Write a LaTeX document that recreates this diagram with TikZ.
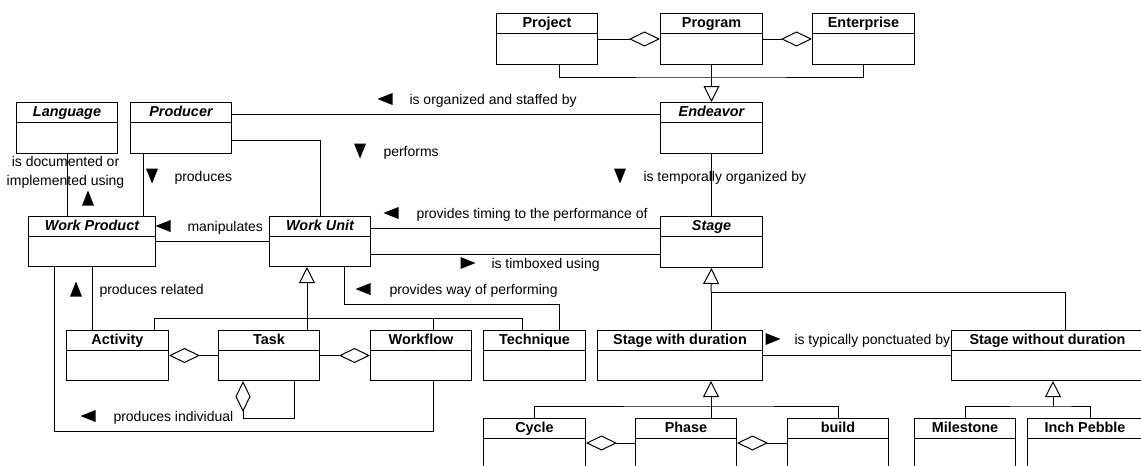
\documentclass[tikz,border=0pt]{standalone}
\usepackage{fontspec}
\setmainfont{Liberation Sans}
\usetikzlibrary{arrows.meta}

\tikzset{
  cls/.style={draw, anchor=north west, inner sep=0pt, minimum height=51pt,
    path picture={\draw ([yshift=-19.5pt]path picture bounding box.north west) -- ([yshift=-19.5pt]path picture bounding box.north east);},
    label={[anchor=base, yshift=-14.5pt, inner sep=0pt, font=\fontsize{14.4}{16}\selectfont\bfseries]north:#1}},
  lbl/.style={anchor=base west, inner sep=0pt},
  aggr/.style={arrows={Diamond[open,length=31pt,width=15pt]-}},
  gen/.style={arrows={-Triangle[open,length=16pt,width=16pt]}},
  dirtri/.pic={\fill (-7.5,-6) -- (7.5,0) -- (-7.5,6) -- cycle;}
}

\begin{document}
\begin{tikzpicture}[x=1pt,y=-1pt,line width=1pt,font=\fontsize{14}{19}\selectfont]
\useasboundingbox (0,0) rectangle (1141,466);

% classes
\node[cls={Project}, minimum width=101pt] (project) at (496,13) {};
\node[cls={Program}, minimum width=102pt] (program) at (660,13) {};
\node[cls={Enterprise}, minimum width=102pt] (enterprise) at (812,13) {};
\node[cls={\itshape Language}, minimum width=101pt] (language) at (16,102) {};
\node[cls={\itshape Producer}, minimum width=101pt] (producer) at (130,102) {};
\node[cls={\itshape Endeavor}, minimum width=102pt] (endeavor) at (660,102) {};
\node[cls={\itshape Work Product}, minimum width=127pt, minimum height=50pt] (workproduct) at (28,216) {};
\node[cls={\itshape Work Unit}, minimum width=101pt, minimum height=50pt] (workunit) at (269,216) {};
\node[cls={\itshape Stage}, minimum width=102pt] (stage) at (660,216) {};
\node[cls={Activity}, minimum width=102pt, minimum height=50pt] (activity) at (66,330) {};
\node[cls={Task}, minimum width=101pt, minimum height=50pt] (task) at (218,330) {};
\node[cls={Workflow}, minimum width=101pt, minimum height=50pt] (workflow) at (370,330) {};
\node[cls={Technique}, minimum width=102pt, minimum height=50pt] (technique) at (483,330) {};
\node[cls={Stage with duration}, minimum width=165pt, minimum height=50pt] (stagewd) at (597,330) {};
\node[cls={Stage without duration}, minimum width=192pt, minimum height=50pt] (stagewod) at (951,330) {};
\node[cls={Cycle}, minimum width=102pt, minimum height=56pt] (cycle) at (483,418) {};
\node[cls={Phase}, minimum width=101pt, minimum height=56pt] (phase) at (635,418) {};
\node[cls={build}, minimum width=101pt, minimum height=56pt] (build) at (787,418) {};
\node[cls={Milestone}, minimum width=101pt, minimum height=56pt] (milestone) at (914,418) {};
\node[cls={Inch Pebble}, minimum width=115pt, minimum height=56pt] (inchpebble) at (1027,418) {};

% aggregations
\draw[aggr] (program.west) -- (project.east);
\draw[aggr] (enterprise.west) -- (program.east);
\draw[aggr] (activity.east) -- (task.west);
\draw[aggr] (workflow.west) -- (task.east);
\draw[aggr] (task.south -| 243,0) -- (243,418) -| (task.south -| 294,0);
\draw[aggr] (cycle.east |- 0,443) -- (phase.west |- 0,443);
\draw[aggr] (phase.east |- 0,443) -- (build.west |- 0,443);

% generalizations
\draw (project.south -| 559,0) |- (711,77) -| (enterprise.south);
\draw[gen] (program.south) -- (endeavor.north);
\draw[gen] (307,318) -- (workunit.south -| 307,0);
\draw (activity.north -| 154,0) |- (522,318) -- (technique.north -| 522,0);
\draw (task.north -| 307,0) -- (307,318);
\draw (workflow.north -| 433,0) -- (433,318);
\draw[gen] (711,292) -- (stage.south);
\draw (stagewd.north -| 711,0) -- (711,292) -| (stagewod.north -| 1065,0);
\draw[gen] (711,406) -- (stagewd.south -| 711,0);
\draw (cycle.north) |- (711,406) -| (build.north);
\draw (phase.north -| 711,0) -- (711,406);
\draw[gen] (1053,406) -- (stagewod.south -| 1053,0);
\draw (milestone.north) |- (1053,406) -| (inchpebble.north -| 1090,0);

% associations
\draw (producer.east |- 0,114) -- (endeavor.west |- 0,114);
\draw (producer.east |- 0,140) -| (workunit.north);
\draw (endeavor.south) -- (stage.north);
\draw (language.south) -- (language.south |- workproduct.north);
\draw (producer.south -| 143,0) -- (workproduct.north -| 143,0);
\draw (workproduct.east) -- (workunit.west);
\draw (workunit.east |- 0,228) -- (stage.west |- 0,228);
\draw (workunit.east |- 0,254) -- (stage.west |- 0,254);
\draw (workunit.south -| 344,0) |- (559,304) -- (technique.north -| 559,0);
\draw (workproduct.south -| 92,0) -- (activity.north -| 92,0);
\draw (workproduct.south -| 54,0) |- (433,431) -- (workflow.south -| 433,0);
\draw (stagewd.east) -- (stagewod.west);

% association names
\pic[rotate=180] at (385,99) {dirtri};
\node[lbl] (lstaffed) at (409,104) {is organized and staffed by};
\pic[rotate=-90] at (360,151) {dirtri};
\node[lbl] (lperforms) at (383,156) {performs};
\pic[rotate=-90] at (620,176) {dirtri};
\node[lbl] (ltemporal) at (643,181) {is temporally organized by};
\node[align=center, inner sep=0pt] (ldocumented) at (65.5,172.5) {is documented or\\implemented using};
\pic[rotate=90] at (88,198) {dirtri};
\pic[rotate=-90] at (152,176) {dirtri};
\node[lbl] (lproduces) at (174,181) {produces};
\pic[rotate=180] at (163,226) {dirtri};
\node[lbl] (lmanipulates) at (187,231) {manipulates};
\pic[rotate=180] at (391,213) {dirtri};
\node[lbl] (ltiming) at (416,218) {provides timing to the performance of};
\pic at (468,263) {dirtri};
\node[lbl] (ltimeboxed) at (491,268) {is timboxed using};
\pic[rotate=180] at (363,289) {dirtri};
\node[lbl] (lway) at (389,294) {provides way of performing};
\pic[rotate=90] at (76,289) {dirtri};
\node[lbl] (lrelated) at (99,294) {produces related};
\pic[rotate=180] at (88,416) {dirtri};
\node[lbl] (lindividual) at (113,421) {produces individual};
\pic at (773,339) {dirtri};
\node[lbl] (lponctuated) at (794,344) {is typically ponctuated by};

\end{tikzpicture}
\end{document}
